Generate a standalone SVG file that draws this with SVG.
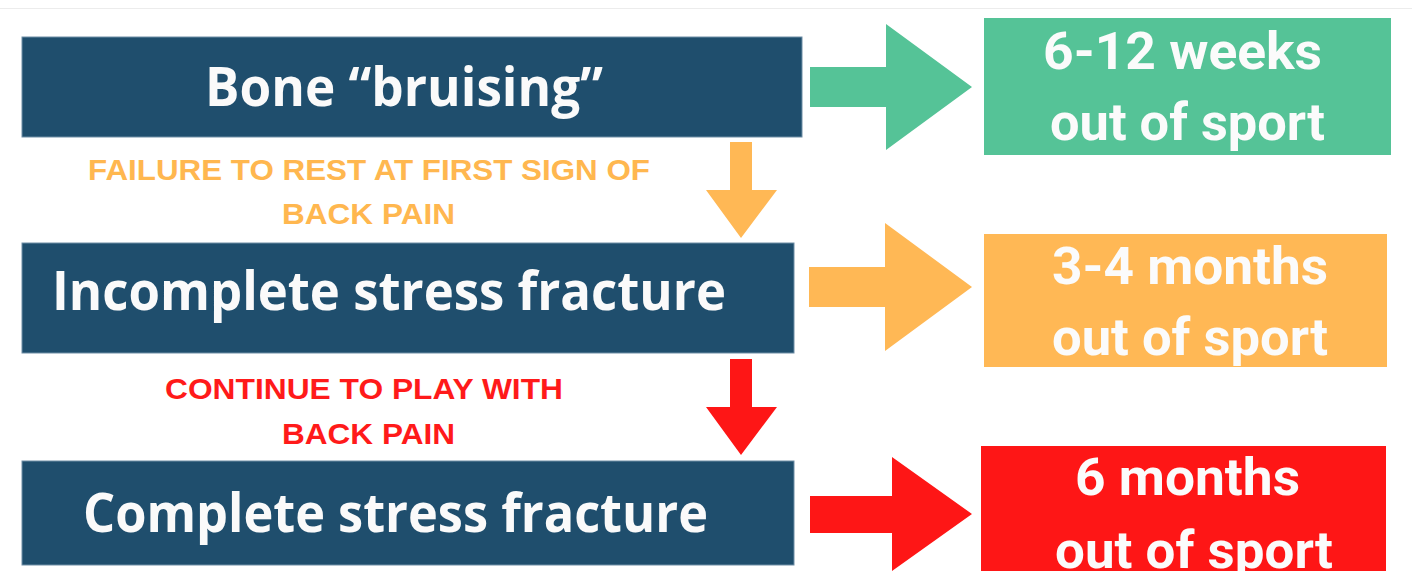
<svg xmlns="http://www.w3.org/2000/svg" width="1412" height="571" viewBox="0 0 1412 571">
  <style>
    .stage { fill: #1f4e6d; stroke: #6f8ea6; stroke-width: 1; }
    .stage-text { font-family: "Open Sans", "Liberation Sans", sans-serif; font-weight: 700; font-size: 54px; fill: #fafafa; }
    .cause { font-family: "Liberation Sans", Arial, sans-serif; font-weight: 700; font-size: 30px; }
    .outcome-text { font-family: Roboto, "Liberation Sans", sans-serif; font-weight: 700; font-size: 52px; fill: #fbfbfb; }
    .green { fill: #55c397; }
    .orange { fill: #ffb855; }
    .red { fill: #fe1616; }
  </style>

  <rect x="0" y="0" width="1412" height="571" fill="#ffffff"/>
  <line x1="0" y1="8.5" x2="1412" y2="8.5" stroke="#ececec" stroke-width="1"/>

  <!-- injury stages -->
  <g id="bone-bruising">
    <rect class="stage" x="22" y="37" width="780" height="100"/>
    <text class="stage-text" x="205" y="106" textLength="398" lengthAdjust="spacingAndGlyphs">Bone “bruising”</text>
  </g>
  <g id="incomplete-fracture">
    <rect class="stage" x="22" y="243" width="772" height="110"/>
    <text class="stage-text" x="52" y="310" textLength="674" lengthAdjust="spacingAndGlyphs">Incomplete stress fracture</text>
  </g>
  <g id="complete-fracture">
    <rect class="stage" x="22" y="461" width="772" height="104"/>
    <text class="stage-text" x="83" y="532" textLength="625" lengthAdjust="spacingAndGlyphs">Complete stress fracture</text>
  </g>

  <!-- time out of sport -->
  <g id="outcome-weeks">
    <rect class="green" x="984" y="18" width="407" height="137"/>
    <text class="outcome-text" x="1043" y="69" textLength="279" lengthAdjust="spacingAndGlyphs">6-12 weeks</text>
    <text class="outcome-text" x="1050" y="140" textLength="275" lengthAdjust="spacingAndGlyphs">out of sport</text>
  </g>
  <g id="outcome-months">
    <rect class="orange" x="984" y="234" width="403" height="133"/>
    <text class="outcome-text" x="1052" y="284" textLength="276" lengthAdjust="spacingAndGlyphs">3-4 months</text>
    <text class="outcome-text" x="1052" y="355" textLength="276" lengthAdjust="spacingAndGlyphs">out of sport</text>
  </g>
  <g id="outcome-six-months">
    <rect class="red" x="981" y="446" width="405" height="130"/>
    <text class="outcome-text" x="1075" y="495" textLength="225" lengthAdjust="spacingAndGlyphs">6 months</text>
    <text class="outcome-text" x="1055" y="568" textLength="278" lengthAdjust="spacingAndGlyphs">out of sport</text>
  </g>

  <!-- connectors -->
  <g id="connectors">
    <polygon class="green" points="810,67 886,67 886,24 972,87 886,150 886,107 810,107"/>
    <polygon class="orange" points="809,267 885,267 885,223 972,287 885,351 885,307 809,307"/>
    <polygon class="red" points="810,496 892,496 892,457 972,514 892,571 892,533 810,533"/>
    <polygon class="orange" points="730,142 752,142 752,190 777,190 741,238 706,190 730,190"/>
    <polygon class="red" points="730,359 752,359 752,407 777,407 741,455 706,407 730,407"/>
    <g id="label-rest" class="cause" fill="#ffb74f">
      <text x="88" y="180" textLength="562" lengthAdjust="spacingAndGlyphs">FAILURE TO REST AT FIRST SIGN OF</text>
      <text x="282" y="224" textLength="173" lengthAdjust="spacingAndGlyphs">BACK PAIN</text>
    </g>
    <g id="label-play" class="cause" fill="#ff1a1a">
      <text x="165" y="399" textLength="398" lengthAdjust="spacingAndGlyphs">CONTINUE TO PLAY WITH</text>
      <text x="282" y="444" textLength="173" lengthAdjust="spacingAndGlyphs">BACK PAIN</text>
    </g>
  </g>
</svg>
